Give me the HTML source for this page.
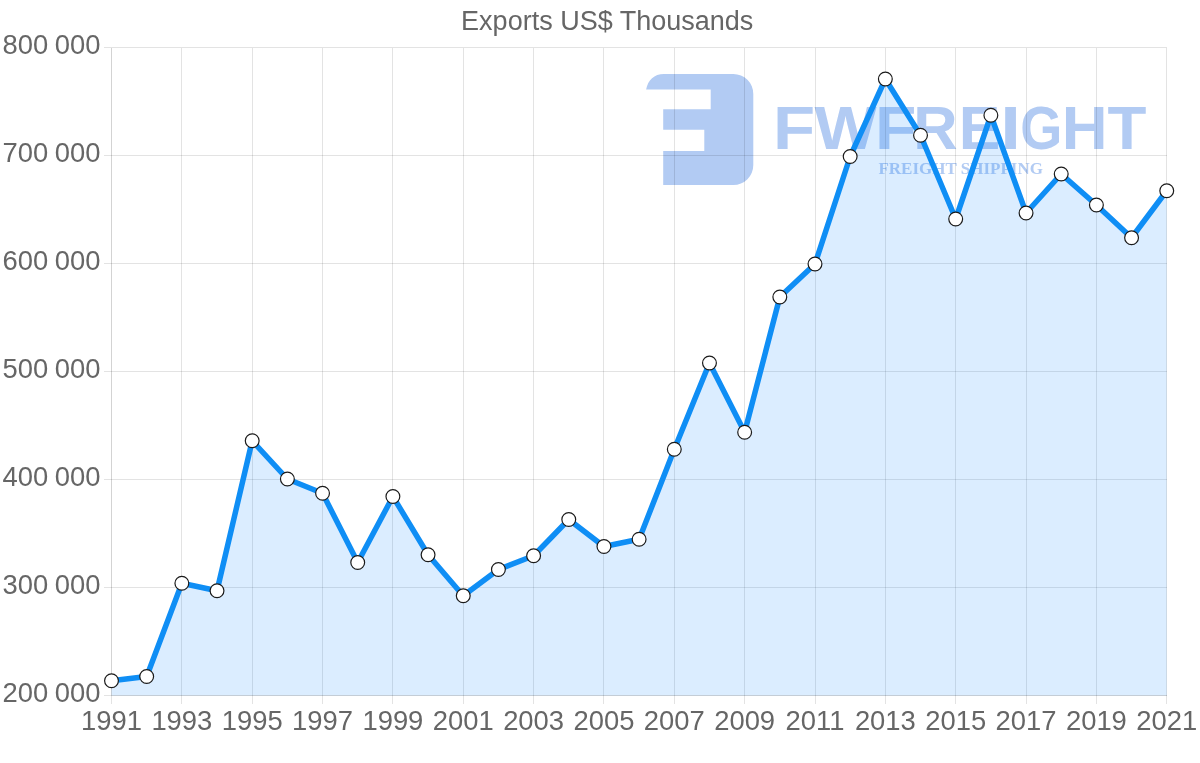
<!DOCTYPE html>
<html lang="en"><head><meta charset="utf-8"><title>Exports US$ Thousands</title>
<style>
html,body{margin:0;padding:0;background:#fff}
body{width:1200px;height:763px;overflow:hidden}
svg{display:block}
text{font-family:"Liberation Sans",sans-serif;fill:#666}
.logo text{fill:#b2cbf3}
</style></head><body>
<svg width="1200" height="763" viewBox="0 0 1200 763">
<rect width="1200" height="763" fill="#fff"/>
<g class="logo">
<path fill="#b2cbf3" d="M646.1 89.4 C648 80 654 73.9 664 73.9 L733.3 73.9 A20 20 0 0 1 753.3 93.9 L753.3 165 A20 20 0 0 1 733.3 185 L663.2 185 L663.2 151 L704.3 151 L704.3 129.7 L663.2 129.7 L663.2 109.2 L710.7 109.2 L710.7 89.4 Z"/>
<text y="148.7" font-size="61.0" font-weight="bold"><tspan x="773.08" textLength="42.14" lengthAdjust="spacingAndGlyphs">F</tspan><tspan x="814.64" textLength="62.13" lengthAdjust="spacingAndGlyphs">W</tspan><tspan x="875.06" textLength="41.42" lengthAdjust="spacingAndGlyphs">F</tspan><tspan x="913.19" textLength="44.37" lengthAdjust="spacingAndGlyphs">R</tspan><tspan x="958.83" textLength="41.61" lengthAdjust="spacingAndGlyphs">E</tspan><tspan x="1000.23" textLength="20.64" lengthAdjust="spacingAndGlyphs">I</tspan><tspan x="1020.28" textLength="42.07" lengthAdjust="spacingAndGlyphs">G</tspan><tspan x="1061.76" textLength="45.82" lengthAdjust="spacingAndGlyphs">H</tspan><tspan x="1107.58" textLength="38.90" lengthAdjust="spacingAndGlyphs">T</tspan></text>
<text x="878.4" y="174.3" font-size="17" font-weight="bold" style="font-family:'Liberation Serif',serif">FREIGHT SHIPPING</text>
</g>
<g stroke="rgba(0,0,0,0.11)" stroke-width="1" shape-rendering="crispEdges"><line x1="103.5" y1="47.5" x2="1166.75" y2="47.5"/><line x1="103.5" y1="155.5" x2="1166.75" y2="155.5"/><line x1="103.5" y1="263.5" x2="1166.75" y2="263.5"/><line x1="103.5" y1="371.5" x2="1166.75" y2="371.5"/><line x1="103.5" y1="479.5" x2="1166.75" y2="479.5"/><line x1="103.5" y1="587.5" x2="1166.75" y2="587.5"/><line x1="103.5" y1="695.5" x2="1166.75" y2="695.5"/><line x1="111.50" y1="47.5" x2="111.50" y2="703.5"/><line x1="181.85" y1="47.5" x2="181.85" y2="703.5"/><line x1="252.20" y1="47.5" x2="252.20" y2="703.5"/><line x1="322.55" y1="47.5" x2="322.55" y2="703.5"/><line x1="392.90" y1="47.5" x2="392.90" y2="703.5"/><line x1="463.25" y1="47.5" x2="463.25" y2="703.5"/><line x1="533.60" y1="47.5" x2="533.60" y2="703.5"/><line x1="603.95" y1="47.5" x2="603.95" y2="703.5"/><line x1="674.30" y1="47.5" x2="674.30" y2="703.5"/><line x1="744.65" y1="47.5" x2="744.65" y2="703.5"/><line x1="815.00" y1="47.5" x2="815.00" y2="703.5"/><line x1="885.35" y1="47.5" x2="885.35" y2="703.5"/><line x1="955.70" y1="47.5" x2="955.70" y2="703.5"/><line x1="1026.05" y1="47.5" x2="1026.05" y2="703.5"/><line x1="1096.40" y1="47.5" x2="1096.40" y2="703.5"/><line x1="1166.75" y1="47.5" x2="1166.75" y2="703.5"/></g>
<g stroke="rgba(0,0,0,0.07)" stroke-width="1" shape-rendering="crispEdges"><line x1="111.5" y1="47.5" x2="111.5" y2="695.5"/><line x1="111.5" y1="695.5" x2="1166.75" y2="695.5"/></g>
<path d="M111.50 680.75 L146.68 676.50 L181.85 583.25 L217.02 590.75 L252.20 440.75 L287.38 479.00 L322.55 493.25 L357.72 562.50 L392.90 496.50 L428.07 554.75 L463.25 595.75 L498.42 569.50 L533.60 555.75 L568.77 519.50 L603.95 546.50 L639.12 539.25 L674.30 449.25 L709.47 363.00 L744.65 432.25 L779.82 297.00 L815.00 264.00 L850.17 156.50 L885.35 79.00 L920.52 135.25 L955.70 219.00 L990.87 115.25 L1026.05 213.00 L1061.22 174.00 L1096.40 205.00 L1131.57 237.75 L1166.75 190.75 L1166.75 695.5 L111.50 695.5 Z" fill="rgba(30,144,255,0.16)"/>
<path d="M111.50 680.75 L146.68 676.50 L181.85 583.25 L217.02 590.75 L252.20 440.75 L287.38 479.00 L322.55 493.25 L357.72 562.50 L392.90 496.50 L428.07 554.75 L463.25 595.75 L498.42 569.50 L533.60 555.75 L568.77 519.50 L603.95 546.50 L639.12 539.25 L674.30 449.25 L709.47 363.00 L744.65 432.25 L779.82 297.00 L815.00 264.00 L850.17 156.50 L885.35 79.00 L920.52 135.25 L955.70 219.00 L990.87 115.25 L1026.05 213.00 L1061.22 174.00 L1096.40 205.00 L1131.57 237.75 L1166.75 190.75" fill="none" stroke="#0f8ef5" stroke-width="5.5" stroke-linejoin="round" stroke-linecap="butt"/>
<g fill="#fff" stroke="#1a1a1a" stroke-width="1.2"><circle cx="111.50" cy="680.75" r="6.9"/><circle cx="146.68" cy="676.50" r="6.9"/><circle cx="181.85" cy="583.25" r="6.9"/><circle cx="217.02" cy="590.75" r="6.9"/><circle cx="252.20" cy="440.75" r="6.9"/><circle cx="287.38" cy="479.00" r="6.9"/><circle cx="322.55" cy="493.25" r="6.9"/><circle cx="357.72" cy="562.50" r="6.9"/><circle cx="392.90" cy="496.50" r="6.9"/><circle cx="428.07" cy="554.75" r="6.9"/><circle cx="463.25" cy="595.75" r="6.9"/><circle cx="498.42" cy="569.50" r="6.9"/><circle cx="533.60" cy="555.75" r="6.9"/><circle cx="568.77" cy="519.50" r="6.9"/><circle cx="603.95" cy="546.50" r="6.9"/><circle cx="639.12" cy="539.25" r="6.9"/><circle cx="674.30" cy="449.25" r="6.9"/><circle cx="709.47" cy="363.00" r="6.9"/><circle cx="744.65" cy="432.25" r="6.9"/><circle cx="779.82" cy="297.00" r="6.9"/><circle cx="815.00" cy="264.00" r="6.9"/><circle cx="850.17" cy="156.50" r="6.9"/><circle cx="885.35" cy="79.00" r="6.9"/><circle cx="920.52" cy="135.25" r="6.9"/><circle cx="955.70" cy="219.00" r="6.9"/><circle cx="990.87" cy="115.25" r="6.9"/><circle cx="1026.05" cy="213.00" r="6.9"/><circle cx="1061.22" cy="174.00" r="6.9"/><circle cx="1096.40" cy="205.00" r="6.9"/><circle cx="1131.57" cy="237.75" r="6.9"/><circle cx="1166.75" cy="190.75" r="6.9"/></g>
<text x="607.2" y="30.3" font-size="27" text-anchor="middle">Exports US$ Thousands</text>
<text x="100.4" y="53.9" font-size="27.4" text-anchor="end" word-spacing="-1.2">800 000</text>
<text x="100.4" y="161.9" font-size="27.4" text-anchor="end" word-spacing="-1.2">700 000</text>
<text x="100.4" y="269.9" font-size="27.4" text-anchor="end" word-spacing="-1.2">600 000</text>
<text x="100.4" y="377.9" font-size="27.4" text-anchor="end" word-spacing="-1.2">500 000</text>
<text x="100.4" y="485.9" font-size="27.4" text-anchor="end" word-spacing="-1.2">400 000</text>
<text x="100.4" y="593.9" font-size="27.4" text-anchor="end" word-spacing="-1.2">300 000</text>
<text x="100.4" y="701.9" font-size="27.4" text-anchor="end" word-spacing="-1.2">200 000</text>
<text x="111.50" y="730" font-size="27.4" text-anchor="middle">1991</text>
<text x="181.85" y="730" font-size="27.4" text-anchor="middle">1993</text>
<text x="252.20" y="730" font-size="27.4" text-anchor="middle">1995</text>
<text x="322.55" y="730" font-size="27.4" text-anchor="middle">1997</text>
<text x="392.90" y="730" font-size="27.4" text-anchor="middle">1999</text>
<text x="463.25" y="730" font-size="27.4" text-anchor="middle">2001</text>
<text x="533.60" y="730" font-size="27.4" text-anchor="middle">2003</text>
<text x="603.95" y="730" font-size="27.4" text-anchor="middle">2005</text>
<text x="674.30" y="730" font-size="27.4" text-anchor="middle">2007</text>
<text x="744.65" y="730" font-size="27.4" text-anchor="middle">2009</text>
<text x="815.00" y="730" font-size="27.4" text-anchor="middle">2011</text>
<text x="885.35" y="730" font-size="27.4" text-anchor="middle">2013</text>
<text x="955.70" y="730" font-size="27.4" text-anchor="middle">2015</text>
<text x="1026.05" y="730" font-size="27.4" text-anchor="middle">2017</text>
<text x="1096.40" y="730" font-size="27.4" text-anchor="middle">2019</text>
<text x="1166.75" y="730" font-size="27.4" text-anchor="middle">2021</text>
</svg>
</body></html>
